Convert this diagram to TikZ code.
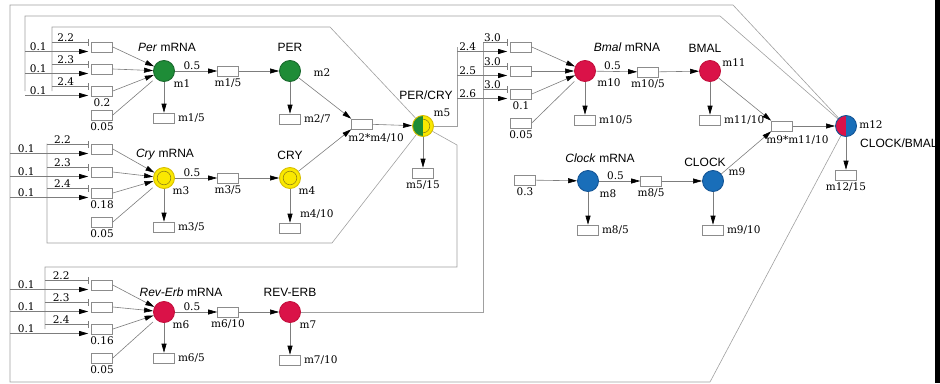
\documentclass[tikz,border=0pt]{standalone}
\usepackage{fontspec}
\setmainfont{DejaVu Serif}
\newfontfamily\labsans{Liberation Sans}
\usetikzlibrary{positioning,arrows.meta}
\definecolor{lngray}{RGB}{125,125,125}
\definecolor{wrgray}{RGB}{160,160,160}
\definecolor{bxgray}{RGB}{140,140,140}
\definecolor{pergreen}{RGB}{30,140,55}
\definecolor{perring}{RGB}{25,105,45}
\definecolor{cryyel}{RGB}{250,232,0}
\definecolor{cryring}{RGB}{215,190,0}
\definecolor{cryin}{RGB}{150,135,20}
\definecolor{revred}{RGB}{218,18,72}
\definecolor{revring}{RGB}{195,15,60}
\definecolor{clkblue}{RGB}{25,110,185}
\definecolor{clkring}{RGB}{20,85,150}
\tikzset{
  ratebox/.style={draw=bxgray,fill=white,line width=0.6pt,minimum width=21pt,minimum height=10pt,inner sep=0pt},
  spec/.style={circle,minimum size=21pt,inner sep=0pt,line width=0.9pt},
  sgreen/.style={spec,fill=pergreen,draw=perring},
  sred/.style={spec,fill=revred,draw=revring},
  sblue/.style={spec,fill=clkblue,draw=clkring},
  syellow/.style={spec,fill=cryyel,draw=cryring,
    path picture={\draw[cryin,line width=0.6pt] (path picture bounding box.center) circle (6.8pt);}},
  sgy/.style={spec,fill=cryyel,draw=cryring,
    path picture={\fill[pergreen] (path picture bounding box.south west) rectangle (path picture bounding box.north);
      \clip (path picture bounding box.south) rectangle (path picture bounding box.north east);
      \draw[cryin,line width=0.6pt] (path picture bounding box.center) circle (6.8pt);}},
  srb/.style={spec,fill=clkblue,draw=clkring,
    path picture={\fill[revred] (path picture bounding box.south west) rectangle (path picture bounding box.north);}},
  flow/.style={draw=lngray,line width=0.6pt,-{Triangle[length=9pt,width=5pt,color=black]}},
  block/.style={draw=lngray,line width=0.6pt,-{Bar[width=7pt]}},
  feed/.style={draw=lngray,line width=0.6pt},
  wire/.style={draw=wrgray,line width=0.6pt},
  numlab/.style={font=\fontsize{10.5}{12}\selectfont,inner sep=1pt},
  namelab/.style={font={\labsans\fontsize{12}{14}\selectfont},inner sep=0pt},
}
% input box with its activating and inhibiting lines
\newcommand{\inpbox}[3]{\node[ratebox] (#1) at (#2,#3) {};}
\newcommand{\regin}[5]{%
  \coordinate (#1a) at ([yshift=-4.5pt]#1.west);
  \coordinate (#1i) at ([yshift=4.5pt]#1.west);
  \draw[flow,shorten >=3pt] (#2 |- #1a) -- node[numlab,above,pos=.2] (#1an) {#3} (#1a);
  \draw[block,shorten >=3pt] (#4 |- #1i) -- node[numlab,above,pos=.35] (#1in) {#5} (#1i);}

\begin{document}
\begin{tikzpicture}[x=1pt,y=-1pt]
  \useasboundingbox (0,0) rectangle (940,383);
  % species
  \node[sgreen]  (m1)  at (164,71)  {};
  \node[sgreen]  (m2)  at (290,71)  {};
  \node[syellow] (m3)  at (164,178) {};
  \node[syellow] (m4)  at (290,178) {};
  \node[sgy]     (m5)  at (423,126) {};
  \node[sred]    (m6)  at (164,312) {};
  \node[sred]    (m7)  at (290,312) {};
  \node[sblue]   (m8)  at (588,181) {};
  \node[sblue]   (m9)  at (713,181) {};
  \node[sred]    (m10) at (585,71)  {};
  \node[sred]    (m11) at (710,71)  {};
  \node[srb]     (m12) at (846,126) {};
  % translation and complex boxes
  \node[ratebox] (tl1)  at (228,71)  {};
  \node[ratebox] (tl3)  at (228,178) {};
  \node[ratebox] (tl6)  at (228,312) {};
  \node[ratebox] (tl10) at (648,72)  {};
  \node[ratebox] (tl8)  at (651,181) {};
  \node[ratebox] (cx5)  at (362,124) {};
  \node[ratebox] (cx12) at (782,126) {};
  % degradation boxes
  \node[ratebox] (dg1)  at (164,118) {};
  \node[ratebox] (dg2)  at (290,119) {};
  \node[ratebox] (dg3)  at (164,227) {};
  \node[ratebox] (dg4)  at (290,228) {};
  \node[ratebox] (dg5)  at (423,173) {};
  \node[ratebox] (dg6)  at (164,358) {};
  \node[ratebox] (dg7)  at (290,360) {};
  \node[ratebox] (dg10) at (585,120) {};
  \node[ratebox] (dg11) at (710,120) {};
  \node[ratebox] (dg8)  at (588,230) {};
  \node[ratebox] (dg9)  at (713,230) {};
  \node[ratebox] (dg12) at (846,175) {};
  % input boxes
  \inpbox{pA1}{102}{47}\inpbox{pA2}{102}{69}\inpbox{pA3}{102}{91}\inpbox{pA4}{102}{115}
  \inpbox{cA1}{102}{149}\inpbox{cA2}{102}{172}\inpbox{cA3}{102}{193}\inpbox{cA4}{102}{222}
  \inpbox{rA1}{102}{285}\inpbox{rA2}{102}{307}\inpbox{rA3}{102}{329}\inpbox{rA4}{102}{358}
  \inpbox{bA1}{521}{47}\inpbox{bA2}{521}{71}\inpbox{bA3}{521}{94}\inpbox{bA4}{521}{123}
  \inpbox{kA1}{525}{180}
  % feedback trunks
  \coordinate (oA) at (733,5);   \coordinate (oB) at (10,5);
  \coordinate (oC) at (10,382);  \coordinate (oD) at (710,382);
  \coordinate (pfA) at (720,16); \coordinate (pfB) at (25,16);
  \coordinate (piA) at (330,27); \coordinate (piB) at (52,27);
  \coordinate (ciA) at (332,243); \coordinate (ciB) at (47,243);
  \coordinate (riA) at (457,145); \coordinate (riB) at (457,267); \coordinate (riC) at (45,267);
  \coordinate (baA) at (457,126); \coordinate (biA) at (483,312);
  \draw[wire] (m12) -- (oA) -- (oB) -- (oC) -- (oD) -- (m12);
  \draw[wire] (m12) -- (pfA) -- (pfB) -- (pfB |- pA3.west);
  \draw[wire] (m5) -- (piA) -- (piB) -- (piB |- pA3.west);
  \draw[wire] (m5) -- (ciA) -- (ciB) -- (ciB |- cA1.north);
  \draw[wire] (m5) -- (riA) -- (riB) -- (riC) -- (riC |- rA3.west);
  \draw[wire] (m5) -- (baA) -- (baA |- bA1.west);
  \draw[wire] (m7) -- (biA) -- (biA |- bA1.north);
  % regulated inputs
  \regin{pA1}{pfB}{0.1}{piB}{2.2}\regin{pA2}{pfB}{0.1}{piB}{2.3}\regin{pA3}{pfB}{0.1}{piB}{2.4}
  \regin{cA1}{oB}{0.1}{ciB}{2.2}\regin{cA2}{oB}{0.1}{ciB}{2.3}\regin{cA3}{oB}{0.1}{ciB}{2.4}
  \regin{rA1}{oB}{0.1}{riC}{2.2}\regin{rA2}{oB}{0.1}{riC}{2.3}\regin{rA3}{oB}{0.1}{riC}{2.4}
  \regin{bA1}{baA}{2.4}{biA}{3.0}\regin{bA2}{baA}{2.5}{biA}{3.0}\regin{bA3}{baA}{2.6}{biA}{3.0}
  % inputs into mRNA
  \foreach \g/\t in {pA/m1,cA/m3,rA/m6,bA/m10}{
    \foreach \k in {1,2,3}{\draw[flow] (\g\k.east) -- (\t);}
    \draw[feed,shorten >=4pt] (\g4.east) -- (\t);
  }
  \draw[flow] (kA1) -- (m8);
  % translation
  \draw[flow] (m1) -- node[numlab,above,pos=.4] (h1) {0.5} (tl1);   \draw[flow] (tl1) -- (m2);
  \draw[flow] (m3) -- node[numlab,above,pos=.4] (h3) {0.5} (tl3);   \draw[flow] (tl3) -- (m4);
  \draw[flow] (m6) -- node[numlab,above,pos=.4] (h6) {0.5} (tl6);   \draw[flow] (tl6) -- (m7);
  \draw[flow] (m10) -- node[numlab,above,pos=.4] (h10) {0.5} (tl10); \draw[flow] (tl10) -- (m11);
  \draw[flow] (m8) -- node[numlab,above,pos=.4] (h8) {0.5} (tl8);   \draw[flow] (tl8) -- (m9);
  % complexes
  \draw[flow] (m2) -- (cx5.north west); \draw[flow] (m4) -- (cx5.south west); \draw[flow] (cx5) -- (m5);
  \draw[flow] (m11) -- (cx12.north west); \draw[flow] (m9) -- (cx12.south west); \draw[flow] (cx12) -- (m12);
  % degradation
  \foreach \s in {1,2,3,4,5,6,7,8,9,10,11,12}{\draw[flow] (m\s) -- (dg\s);}
  % rate texts
  \node[numlab,below=1pt of pA3] (v1) {0.2};  \node[numlab,below=1pt of pA4] (v2) {0.05};
  \node[numlab,below=1pt of cA3] (v3) {0.18}; \node[numlab,below=1pt of cA4] (v4) {0.05};
  \node[numlab,below=1pt of rA3] (v5) {0.16}; \node[numlab,below=1pt of rA4] (v6) {0.05};
  \node[numlab,below=1pt of bA3] (v7) {0.1};  \node[numlab,below=1pt of bA4] (v8) {0.05};
  \node[numlab,below=1pt of kA1] (v9) {0.3};
  \node[numlab,below=1pt of tl1] (w1) {m1/5};
  \node[numlab,below=1pt of tl3] (w3) {m3/5};
  \node[numlab,below=1pt of tl6] (w6) {m6/10};
  \node[numlab,below=1pt of tl10] (w10) {m10/5};
  \node[numlab,below=1pt of tl8] (w8) {m8/5};
  \node[numlab,below right=3pt and -4pt of cx5.south west] (w5) {m2*m4/10};
  \node[numlab,below right=3pt and -6pt of cx12.south west] (w12) {m9*m11/10};
  \node[numlab,right=2pt of dg1] (e1) {m1/5};
  \node[numlab,right=2pt of dg2] (e2) {m2/7};
  \node[numlab,right=2pt of dg3] (e3) {m3/5};
  \node[numlab,above right=3pt and -2pt of dg4.north east] (e4) {m4/10};
  \node[numlab,below=1pt of dg5] (e5) {m5/15};
  \node[numlab,right=2pt of dg6] (e6) {m6/5};
  \node[numlab,right=2pt of dg7] (e7) {m7/10};
  \node[numlab,right=2pt of dg10] (e10) {m10/5};
  \node[numlab,right=2pt of dg11] (e11) {m11/10};
  \node[numlab,right=2pt of dg8] (e8) {m8/5};
  \node[numlab,right=2pt of dg9] (e9) {m9/10};
  \node[numlab,below=1pt of dg12] (e12) {m12/15};
  % species texts
  \node[numlab] (t1) at (182,84) {m1};   \node[numlab] (t2) at (322,73) {m2};
  \node[numlab] (t3) at (181,191) {m3};  \node[numlab] (t4) at (307,191) {m4};
  \node[numlab] (t5) at (442,113) {m5};  \node[numlab] (t6) at (181,325) {m6};
  \node[numlab] (t7) at (308,325) {m7};  \node[numlab] (t8) at (608,194) {m8};
  \node[numlab] (t9) at (737,172) {m9};  \node[numlab] (t10) at (609,83) {m10};
  \node[numlab] (t11) at (734,63) {m11}; \node[numlab] (t12) at (871,125) {m12};
  \node[namelab] (n1) at (167,47) {\textit{Per} mRNA};
  \node[namelab] (n2) at (290,47) {PER};
  \node[namelab] (n3) at (165,155) {\textit{Cry} mRNA};
  \node[namelab] (n4) at (290,155) {CRY};
  \node[namelab] (n5) at (426,95) {PER/CRY};
  \node[namelab] (n6) at (181,292) {\textit{Rev-Erb} mRNA};
  \node[namelab] (n7) at (290,292) {REV-ERB};
  \node[namelab] (n10) at (627,47) {\textit{Bmal} mRNA};
  \node[namelab] (n11) at (705,48) {BMAL};
  \node[namelab] (n8) at (600,158) {\textit{Clock} mRNA};
  \node[namelab] (n9) at (705,162) {CLOCK};
  \node[namelab,anchor=west] (n12) at (860,143) {CLOCK/BMAL};
  \fill[black] (935,0) rectangle (940,383);
\end{tikzpicture}
\end{document}
